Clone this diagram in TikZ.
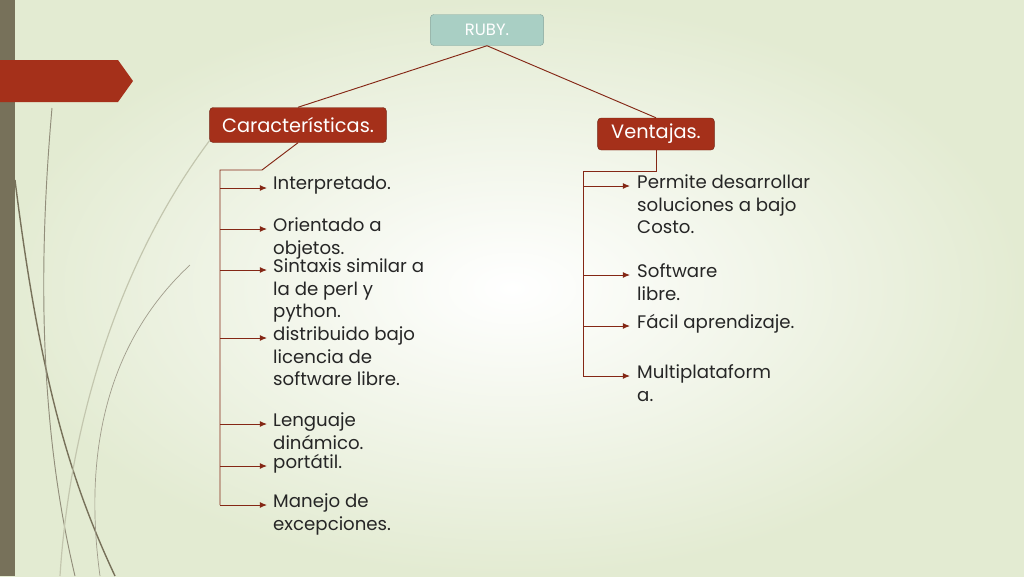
\documentclass[tikz,border=0pt]{standalone}
\usepackage{fontspec}
\setmainfont{Poppins}
\usetikzlibrary{arrows.meta}
\definecolor{rojo}{HTML}{A5301A}
\definecolor{verdeazul}{HTML}{A9CFC4}
\definecolor{oliva}{HTML}{77715A}
\definecolor{fondo}{HTML}{E3EBD2}
\tikzset{
  titulo/.style={rounded corners=3pt, fill=rojo, draw=rojo!70!black, text=white, minimum height=1.05cm, font=\fontsize{16.5}{20}\selectfont},
  item/.style={anchor=north west, align=left, inner sep=0pt, font=\fontsize{15.5}{19.6}\selectfont, text=black!85},
  rama/.style={rojo!80!black, line width=0.8pt},
  flecha/.style={rama, -{Latex[length=6pt,width=5pt]}}
}
\begin{document}
\begin{tikzpicture}[x=0.03cm, y=-0.03cm]
    \useasboundingbox (0,0) rectangle (1024,576);
    % Fondo
    \shade[inner color=white, outer color=fondo] (0,0) rectangle (1024,576);
    \fill[oliva] (0,0) rectangle (15,576);
    \fill[rojo] (0,60) -- (118,60) -- (133,81) -- (118,102) -- (0,102) -- cycle;
    \draw[oliva, line width=1.2pt] (15,180) .. controls (40,380) and (70,480) .. (115,576);
    \draw[oliva!80, line width=0.8pt] (52,108) .. controls (35,300) and (45,450) .. (75,576);
    \draw[oliva!70, line width=0.6pt] (190,265) .. controls (120,330) and (80,430) .. (100,576);
    \draw[fondo!70!oliva, line width=1pt] (210,140) .. controls (120,260) and (70,420) .. (60,576);

    % Nodos principales
    \node[titulo, fill=verdeazul, draw=verdeazul!80!black, minimum width=3.4cm, minimum height=0.93cm, font=\fontsize{14}{16}\selectfont] (ruby) at (487,30) {RUBY.};
    \node[titulo, minimum width=5.3cm] (carac) at (298,125) {Características.};
    \node[titulo, minimum width=3.5cm, minimum height=0.96cm] (venta) at (656,134) {Ventajas.};
    \draw[rama] (ruby.south) -- (carac.north);
    \draw[rama] (ruby.south) -- (venta.north);

    % Rama izquierda
    \coordinate (c0) at (220,170);
    \coordinate (c1) at (220,505);
    \draw[rama] (carac.south) -- (262,170) -- (c0) -- (c1);
    \foreach \y/\txt in {188/Interpretado., 229/Orientado a\\objetos., 270/Sintaxis similar a\\la de perl y\\python., 338/distribuido bajo\\licencia de\\software libre., 424/Lenguaje\\dinámico., 466/portátil., 505/Manejo de\\excepciones.} {
        \coordinate (a) at (220,\y);
        \coordinate (b) at (267,\y);
        \draw[flecha] (a) -- (b);
        \node[item] at (273,\y-12) {\txt};
    }

    % Rama derecha
    \coordinate (v0) at (583,171);
    \coordinate (v1) at (583,376);
    \draw[rama] (venta.south) -- (656,171) -- (v0) -- (v1);
    \foreach \y/\txt in {186/Permite desarrollar\\soluciones a bajo\\Costo., 275/Software\\libre., 326/Fácil aprendizaje., 376/Multiplataform\\a.} {
        \coordinate (a) at (583,\y);
        \coordinate (b) at (630,\y);
        \draw[flecha] (a) -- (b);
        \node[item] at (637,\y-12) {\txt};
    }
\end{tikzpicture}
\end{document}
